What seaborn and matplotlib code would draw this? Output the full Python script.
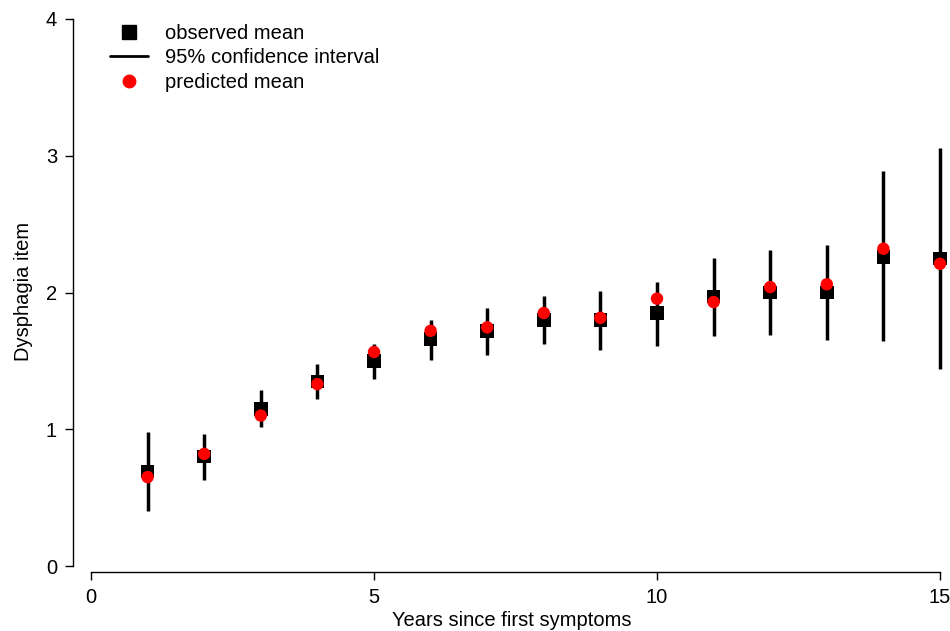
import numpy as np
import pandas as pd
import matplotlib
matplotlib.use("Agg")
import matplotlib.pyplot as plt
from matplotlib.lines import Line2D
import seaborn as sns

years = [1, 2, 3, 4, 5, 6, 7, 8, 9, 10, 11, 12, 13, 14, 15]
observed_mean = [0.69, 0.80, 1.15, 1.35, 1.50, 1.66, 1.72, 1.80, 1.80, 1.85, 1.97, 2.00, 2.00, 2.26, 2.25]
ci_lower = [0.40, 0.63, 1.02, 1.22, 1.37, 1.51, 1.54, 1.62, 1.58, 1.61, 1.68, 1.69, 1.65, 1.645, 1.44]
ci_upper = [0.98, 0.965, 1.29, 1.48, 1.62, 1.80, 1.89, 1.975, 2.01, 2.08, 2.25, 2.31, 2.35, 2.89, 3.06]
predicted_mean = [0.65, 0.82, 1.10, 1.33, 1.565, 1.72, 1.745, 1.85, 1.815, 1.955, 1.93, 2.04, 2.06, 2.32, 2.21]

x_ticks = [0, 5, 10, 15]
y_ticks = [0, 1, 2, 3, 4]
labels = ["observed mean", "95% confidence interval", "predicted mean"]

df = pd.DataFrame({"year": years, "obs": observed_mean, "lo": ci_lower,
                   "hi": ci_upper, "pred": predicted_mean})

sns.set_style("white")
plt.rcParams["font.family"] = ["Liberation Sans", "DejaVu Sans"]
plt.rcParams["text.color"] = "black"
plt.rcParams["axes.labelcolor"] = "black"
FS = 14.5

W, H = 950, 631
fig = plt.figure(figsize=(W / 100, H / 100), dpi=100)
# axes in pixel terms: left 73, right 950, top 10, bottom 572
ax = fig.add_axes([73 / W, 1 - 572 / H, (950 - 73) / W, (572 - 10) / H])

# x: 0 -> 91px, 15 -> 940px
xs = (940 - 91) / 15
ax.set_xlim(-(91 - 73) / xs, 15 + (950 - 940) / xs)
# y: 0 -> 566px, 4 -> 19px
ys = (566 - 19) / 4
ax.set_ylim(-(572 - 566) / ys, 4 + (19 - 10) / ys)

ax.vlines(df["year"], df["lo"], df["hi"], color="black", linewidth=2.5, zorder=2)
sns.scatterplot(data=df, x="year", y="obs", marker="s", s=95, color="black",
                edgecolor="none", ax=ax, zorder=3, legend=False)
sns.scatterplot(data=df, x="year", y="pred", marker="o", s=80, color="red",
                edgecolor="none", ax=ax, zorder=4, legend=False)

for side in ["top", "right"]:
    ax.spines[side].set_visible(False)
ax.spines["bottom"].set_bounds(0, 15)
ax.spines["left"].set_bounds(0, 4)
for side in ["bottom", "left"]:
    ax.spines[side].set_color("black")
    ax.spines[side].set_linewidth(1.0)

ax.set_xticks(x_ticks)
ax.set_yticks(y_ticks)
ax.set_xticklabels([str(t) for t in x_ticks])
ax.set_yticklabels([str(t) for t in y_ticks])
ax.tick_params(axis="both", which="major", direction="out", length=6, width=1.0,
               color="black", labelsize=FS, labelcolor="black")
ax.tick_params(axis="x", pad=5.5, bottom=True)
ax.tick_params(axis="y", pad=5.5, left=True)

ax.set_xlabel("Years since first symptoms", fontsize=FS, labelpad=3, color="black")
ax.set_ylabel("Dysphagia item", fontsize=FS, labelpad=9, color="black")
ax.grid(False)

handles = [
    Line2D([], [], marker="s", linestyle="none", color="black", markersize=9.5),
    Line2D([], [], color="black", linewidth=2.0),
    Line2D([], [], marker="o", linestyle="none", color="red", markersize=9.0),
]
leg = fig.legend(handles, labels, loc="upper left",
                 bbox_to_anchor=(110 / W, 1 - 24 / H), frameon=False,
                 fontsize=FS, borderpad=0, borderaxespad=0, labelspacing=0.27,
                 handlelength=1.9, handletextpad=0.85)
for t in leg.get_texts():
    t.set_color("black")

fig.savefig("out.png", dpi=100)
